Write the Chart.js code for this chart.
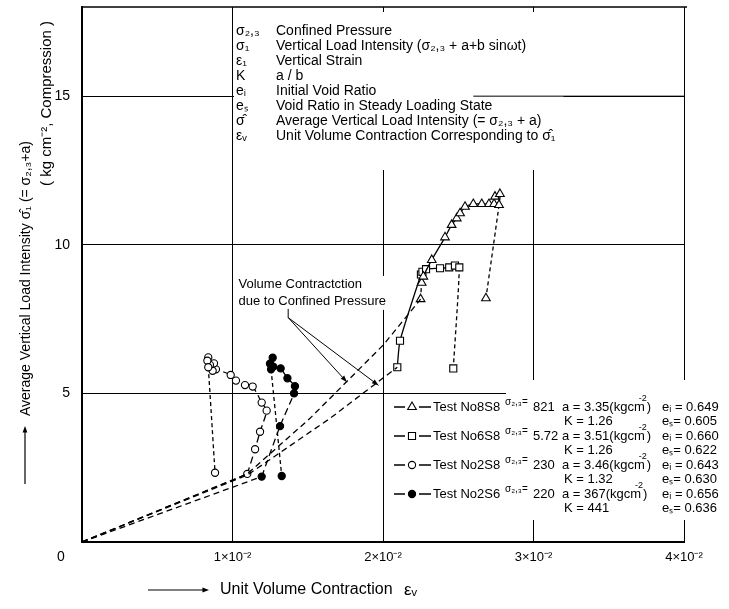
<!DOCTYPE html>
<html>
<head>
<meta charset="utf-8">
<script src="https://cdn.jsdelivr.net/npm/chart.js"></script>
<style>
  html, body { margin: 0; padding: 0; background: #fff; }
</style>
</head>
<body>
<canvas id="myChart" width="729" height="609"></canvas>
<script>
// x: unit volume contraction (x 10^-2), y: average vertical load intensity (kg/cm2)
var xTicks = [1, 2, 3, 4];
var xTickLabels = ["1×10⁻²", "2×10⁻²", "3×10⁻²", "4×10⁻²"];
var yTicks = [5, 10, 15];

// Test No8S8 (triangles)
var t8s8X = [2.250, 2.257, 2.268, 2.324, 2.412, 2.456, 2.490, 2.512, 2.545, 2.600, 2.656, 2.704, 2.738, 2.744, 2.777, 2.771, 2.684];
var t8s8Y = [8.17, 8.72, 8.93, 9.49, 10.25, 10.67, 10.89, 11.06, 11.28, 11.37, 11.37, 11.37, 11.37, 11.62, 11.71, 11.34, 8.20];
// Test No6S8 (squares)
var t6s8X = [2.095, 2.113, 2.252, 2.262, 2.286, 2.379, 2.440, 2.478, 2.507, 2.467];
var t6s8Y = [5.88, 6.77, 9.00, 9.09, 9.18, 9.21, 9.24, 9.30, 9.24, 5.84];
// Test No2S8 (open circles)
var t2s8X = [1.098, 1.150, 1.183, 1.227, 1.194, 1.134, 1.083, 1.023, 0.988, 0.890, 0.868, 0.877, 0.850, 0.839, 0.833, 0.839, 0.884];
var t2s8Y = [2.29, 3.12, 3.71, 4.42, 4.69, 5.23, 5.28, 5.43, 5.62, 5.81, 5.76, 6.01, 5.96, 6.21, 6.10, 5.88, 2.33];
// Test No2S6 (filled circles)
var t2s6X = [1.194, 1.316, 1.409, 1.415, 1.365, 1.320, 1.271, 1.267, 1.249, 1.256, 1.327];
var t2s6Y = [2.20, 3.90, 5.00, 5.24, 5.51, 5.84, 5.90, 6.20, 6.00, 5.81, 2.22];

// volume contraction due to confined pressure (dashed paths from the origin)
var conf8s8X = [0, 1.098, 1.515, 2.002, 2.250];
var conf8s8Y = [0, 2.29, 4.16, 6.63, 8.17];
var conf6s8X = [0, 1.098, 1.648, 2.095];
var conf6s8Y = [0, 2.25, 4.16, 5.88];
var conf2s8X = [0, 1.098];
var conf2s8Y = [0, 2.29];
var conf2s6X = [0, 1.194];
var conf2s6Y = [0, 2.20];

// annotation leader: root and arrow tips
var leaderRoot = [1.37, 7.55];
var leaderTipsX = [1.76, 1.97];
var leaderTipsY = [5.38, 5.27];

var testNames = ["Test No8S8", "Test No6S8", "Test No2S8", "Test No2S6"];
var confPress = ["821", "5.72", "230", "220"];
var aValues = ["3.35", "3.51", "3.46", "367"];
var kValues = ["1.26", "1.26", "1.32", "441"];
var eInit = ["0.649", "0.660", "0.643", "0.656"];
var eSteady = ["0.605", "0.622", "0.630", "0.636"];

var symbolRows = [
    ["σ₂,₃", "Confined Pressure"],
    ["σ₁", "Vertical Load Intensity (σ₂,₃ + a+b sinωt)"],
    ["ε₁", "Vertical Strain"],
    ["K", "a / b"],
    ["eᵢ", "Initial Void Ratio"],
    ["eₛ", "Void Ratio in Steady Loading State"],
    ["σ̂", "Average Vertical Load Intensity (= σ₂,₃ + a)"],
    ["εᵥ", "Unit Volume Contraction Corresponding to σ̂₁"]
];

var FONT = '"Liberation Sans", Arial, sans-serif';

function toXY(xs, ys) {
    return xs.map(function (x, i) { return { x: x, y: ys[i] }; });
}

function confined(xs, ys) {
    return {
        data: toXY(xs, ys),
        showLine: true,
        borderColor: "#000",
        borderWidth: 1.3,
        borderDash: [6, 4],
        pointRadius: 0,
        tension: 0
    };
}

function markerRadius(style) {
    return style === "circle" ? 3.6 : 5;
}

function test(xs, ys, style, fill, loadDash, firstDashed) {
    var last = xs.length - 1;
    return {
        data: toXY(xs, ys),
        showLine: true,
        borderColor: "#000",
        borderWidth: 1.3,
        pointStyle: style,
        pointRadius: markerRadius(style),
        pointBackgroundColor: fill,
        pointBorderColor: "#000",
        pointBorderWidth: 1.1,
        tension: 0.2,
        segment: {
            borderDash: function (ctx) {
                if (ctx.p1DataIndex === last) return [4, 3];
                if (ctx.p1DataIndex <= firstDashed) return [4, 3];
                return loadDash;
            }
        }
    };
}

function arrowHead(c, x0, y0, x1, y1, size) {
    var ang = Math.atan2(y1 - y0, x1 - x0);
    c.beginPath();
    c.moveTo(x1, y1);
    c.lineTo(x1 - size * Math.cos(ang - 0.35), y1 - size * Math.sin(ang - 0.35));
    c.lineTo(x1 - size * Math.cos(ang + 0.35), y1 - size * Math.sin(ang + 0.35));
    c.closePath();
    c.fill();
}

var paperPlugin = {
    id: "paper",
    afterDraw: function (chart) {
        var c = chart.ctx, a = chart.chartArea;
        var sx = chart.scales.x, sy = chart.scales.y;
        var i, w;
        c.save();
        c.strokeStyle = "#000";
        c.fillStyle = "#000";

        // top frame line
        c.lineWidth = 1.5;
        c.beginPath();
        c.moveTo(a.left, a.top);
        c.lineTo(a.right + 3, a.top);
        c.stroke();

        // symbol list at top, on a blank patch of the grid
        c.font = "14px " + FONT;
        c.textBaseline = "middle";
        var maxW = 0;
        for (i = 0; i < symbolRows.length; i++) {
            maxW = Math.max(maxW, c.measureText(symbolRows[i][1]).width);
        }
        c.fillStyle = "#fff";
        c.fillRect(234, a.top + 5, 276 + maxW + 8 - 234, 170 - a.top - 5);
        // the y = 15 grid line shows again right of the text
        var y15 = sy.getPixelForValue(yTicks[2]);
        c.lineWidth = 1;
        c.beginPath();
        c.moveTo(sx.getPixelForValue(2.6), y15);
        c.lineTo(a.right, y15);
        c.stroke();
        c.fillStyle = "#000";
        for (i = 0; i < symbolRows.length; i++) {
            var yy = 31 + i * 15;
            c.fillText(symbolRows[i][0], 236, yy);
            c.fillText(symbolRows[i][1], 276, yy);
        }

        // annotation text
        var tx = sx.getPixelForValue(1.04), ty = sy.getPixelForValue(8.65);
        c.font = "13px " + FONT;
        var t1 = "Volume Contractction", t2 = "due to Confined Pressure";
        w = Math.max(c.measureText(t1).width, c.measureText(t2).width);
        c.fillStyle = "#fff";
        c.fillRect(tx - 2, ty - 9, w + 5, 34);
        c.fillStyle = "#000";
        c.fillText(t1, tx, ty);
        c.fillText(t2, tx, ty + 17);

        // leader lines
        var rx = sx.getPixelForValue(leaderRoot[0]), ry2 = sy.getPixelForValue(leaderRoot[1]);
        c.lineWidth = 1;
        c.beginPath();
        c.moveTo(rx, ty + 24);
        c.lineTo(rx, ry2);
        c.stroke();
        for (i = 0; i < leaderTipsX.length; i++) {
            var px = sx.getPixelForValue(leaderTipsX[i]), py = sy.getPixelForValue(leaderTipsY[i]);
            c.beginPath();
            c.moveTo(rx, ry2);
            c.lineTo(px, py);
            c.stroke();
            arrowHead(c, rx, ry2, px, py, 7);
        }

        // test legend, bottom right
        c.fillStyle = "#fff";
        c.fillRect(390, 399, 116, 117);
        c.fillRect(506, 380, 223, 140);
        c.fillStyle = "#000";
        var ds = chart.data.datasets;
        for (i = 0; i < testNames.length; i++) {
            var y1 = 407 + i * 29, y2 = y1 + 14.4;
            var d = ds[4 + i];
            c.lineWidth = 1.5;
            c.setLineDash([]);
            c.beginPath();
            c.moveTo(394, y1); c.lineTo(405, y1);
            c.moveTo(419, y1); c.lineTo(431, y1);
            c.stroke();
            c.fillStyle = d.pointBackgroundColor;
            c.lineWidth = 1.1;
            Chart.helpers.drawPoint(c, { pointStyle: d.pointStyle, radius: d.pointRadius, rotation: 0, borderWidth: 1.1 }, 412, y1);
            c.fillStyle = "#000";
            c.font = "13px " + FONT;
            c.fillText(testNames[i], 433, y1);
            c.font = "10px " + FONT;
            c.fillText("σ₂,₃=", 505, y1 - 5);
            c.font = "13px " + FONT;
            c.fillText(confPress[i], 533, y1);
            var aText = "a = " + aValues[i] + "(kgcm";
            c.fillText(aText, 562, y1);
            w = c.measureText(aText).width;
            c.font = "9px " + FONT;
            c.fillText("-2", 562 + w - 6, y1 - 8);
            c.font = "13px " + FONT;
            c.fillText(")", 562 + w + 2, y1);
            c.fillText("eᵢ = " + eInit[i], 662, y1);
            c.fillText("K = " + kValues[i], 564, y2);
            c.fillText("eₛ= " + eSteady[i], 662, y2);
        }

        // origin label
        c.font = "14px " + FONT;
        c.textAlign = "center";
        c.fillText("0", a.left - 21, a.bottom + 15);

        // x axis title
        c.textAlign = "left";
        c.lineWidth = 1.2;
        c.beginPath();
        c.moveTo(148, 590); c.lineTo(205, 590);
        c.stroke();
        arrowHead(c, 148, 590, 209, 590, 7);
        c.font = "16px " + FONT;
        c.fillText("Unit Volume Contraction", 220, 590);
        c.font = "17px " + FONT;
        c.fillText("εᵥ", 404, 590);

        // y axis title (rotated)
        c.beginPath();
        c.moveTo(25, 484); c.lineTo(25, 432);
        c.stroke();
        arrowHead(c, 25, 484, 25, 426, 7);
        c.font = "14px " + FONT;
        c.save();
        c.translate(26, 416);
        c.rotate(-Math.PI / 2);
        c.fillText("Average Vertical Load Intensity σ̂₁ (= σ₂,₃+a)", 0, 0);
        c.restore();
        c.font = "15px " + FONT;
        c.save();
        c.translate(47, 186);
        c.rotate(-Math.PI / 2);
        c.fillText("( kg cm⁻², Compression )", 0, 0);
        c.restore();

        c.restore();
    }
};

var ctx = document.getElementById("myChart").getContext("2d");

var myChart = new Chart(ctx, {
    type: "scatter",
    data: {
        datasets: [
            confined(conf8s8X, conf8s8Y),
            confined(conf6s8X, conf6s8Y),
            confined(conf2s8X, conf2s8Y),
            confined(conf2s6X, conf2s6Y),
            test(t8s8X, t8s8Y, "triangle", "#fff", [], 2),
            test(t6s8X, t6s8Y, "rect", "#fff", [], 0),
            test(t2s8X, t2s8Y, "circle", "#fff", [7, 4], 0),
            test(t2s6X, t2s6Y, "circle", "#000", [7, 4], 0)
        ]
    },
    options: {
        responsive: false,
        animation: false,
        devicePixelRatio: 1,
        layout: { padding: { left: 0, top: 7, right: 45, bottom: 0 } },
        plugins: {
            legend: { display: false },
            tooltip: { enabled: false }
        },
        scales: {
            x: {
                type: "linear",
                min: 0,
                max: 4,
                afterBuildTicks: function (s) {
                    s.ticks = [0].concat(xTicks).map(function (v) { return { value: v }; });
                },
                afterFit: function (s) {
                    s.height = 67;
                    s.paddingLeft = 0;
                    s.paddingRight = 0;
                },
                ticks: {
                    color: "#000",
                    padding: 8,
                    font: { family: FONT, size: 13 },
                    maxRotation: 0,
                    callback: function (v) {
                        var k = xTicks.indexOf(v);
                        return k < 0 ? "" : xTickLabels[k];
                    }
                },
                grid: { color: "#000", lineWidth: 1, drawTicks: false },
                border: { color: "#000", width: 2 }
            },
            y: {
                type: "linear",
                min: 0,
                max: 18,
                afterBuildTicks: function (s) {
                    s.ticks = [0].concat(yTicks).map(function (v) { return { value: v }; });
                },
                afterFit: function (s) {
                    s.width = 82;
                    s.paddingTop = 0;
                    s.paddingBottom = 0;
                },
                ticks: {
                    color: "#000",
                    padding: 12,
                    font: { family: FONT, size: 14 },
                    callback: function (v) { return v === 0 ? "" : String(v); }
                },
                grid: { color: "#000", lineWidth: 1, drawTicks: false },
                border: { color: "#000", width: 2 }
            }
        }
    },
    plugins: [paperPlugin]
});
</script>
</body>
</html>
